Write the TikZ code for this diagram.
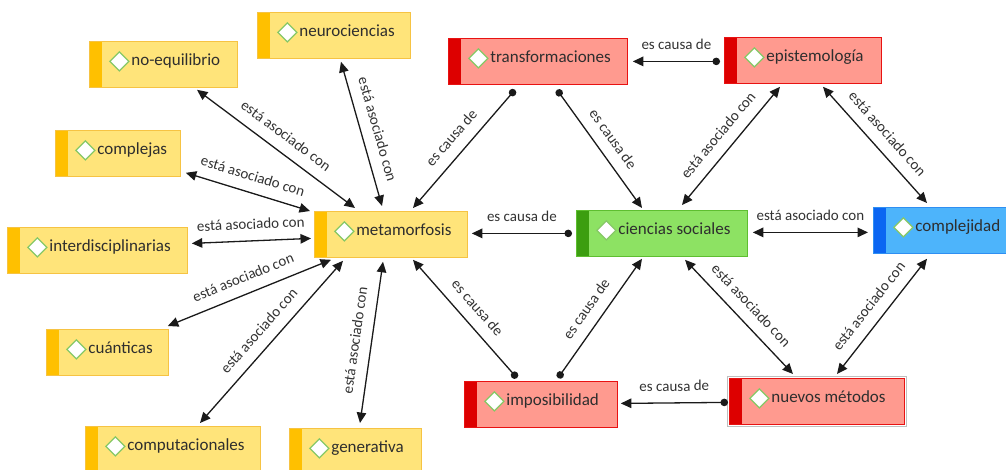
\documentclass[tikz,border=0pt]{standalone}
\usepackage{fontspec}
\setmainfont{Carlito}
\usetikzlibrary{arrows.meta}
\definecolor{yfill}{HTML}{FFE47A}
\definecolor{yacc}{HTML}{FFC000}
\definecolor{ybord}{HTML}{F6C343}
\definecolor{rfill}{HTML}{FF9A8F}
\definecolor{racc}{HTML}{DD0000}
\definecolor{rbord}{HTML}{E81212}
\definecolor{gfill}{HTML}{8DE263}
\definecolor{gacc}{HTML}{3C9E10}
\definecolor{gbord}{HTML}{5EBE30}
\definecolor{bfill}{HTML}{4DB4FB}
\definecolor{bacc}{HTML}{0B66F2}
\definecolor{bbord}{HTML}{2F8FF2}
\definecolor{dgreen}{HTML}{86C866}
\definecolor{ntext}{HTML}{2E2E2E}
\definecolor{ltext}{HTML}{333333}
\definecolor{edgec}{HTML}{1A1A1A}
\tikzset{
  cbox/.style={anchor=north west, inner xsep=0pt, inner ysep=0pt, minimum height=46pt,
    text width=#1pt, align=flush left, line width=0.8pt, text=ntext,
    font=\fontsize{17}{20}\selectfont, text height=9pt, text depth=6pt,
    execute at begin node={\noindent\hspace*{42pt}}},
  accentbar/.style={path picture={
    \fill[#1] (path picture bounding box.north west) rectangle ([shift={(13,0)}]path picture bounding box.south west);
    \filldraw[fill=white, draw=dgreen, line width=1.3pt] ([shift={(20.5,-3)}]path picture bounding box.west) -- ++(9.5,-9.5) -- ++(9.5,9.5) -- ++(-9.5,9.5) -- cycle;}},
  ybox/.style={cbox=#1, fill=yfill, draw=ybord, accentbar=yacc},
  rbox/.style={cbox=#1, fill=rfill, draw=rbord, accentbar=racc},
  gbox/.style={cbox=#1, fill=gfill, draw=gbord, accentbar=gacc},
  bbox/.style={cbox=#1, fill=bfill, draw=bbord, accentbar=bacc},
  tipT/.tip={Triangle[length=10.5pt,width=9.5pt]},
  assoc/.style={draw=edgec, line width=1.3pt, tipT-tipT},
  cause/.style={draw=edgec, line width=1.3pt, {Circle[length=7.5pt]}-tipT},
  lbl/.style={font=\fontsize{15}{17}\selectfont, text=ltext, sloped, midway, above=9pt, inner sep=2pt}
}
\begin{document}
\begin{tikzpicture}[x=1pt,y=-1pt]
\useasboundingbox (0,0) rectangle (1006,470);
\fill[white] (0,0) rectangle (1006,470);
% nodes
\node[ybox=153] (neuro) at (257,12) {neurociencias};
\node[ybox=148] (noeq) at (89,41) {no-equilibrio};
\node[ybox=125] (compj) at (55,130) {complejas};
\node[ybox=180] (interd) at (7,227) {interdisciplinarias};
\node[ybox=122] (cuant) at (46,329) {cuánticas};
\node[ybox=175] (comput) at (85,426) {computacionales};
\node[ybox=132] (gener) at (289,428) {generativa};
\node[ybox=153] (meta) at (314,211) {metamorfosis};
\node[gbox=171] (cs) at (576,210) {ciencias sociales};
\node[bbox=140] (compl) at (873,207) {complejidad};
\node[rbox=179] (transf) at (448,38) {transformaciones};
\node[rbox=157] (epist) at (724,37) {epistemología};
\node[rbox=153] (impos) at (464,381) {imposibilidad};
\node[rbox=175] (nm) at (729,378) {nuevos métodos};
\draw[black!25, line width=1pt] ([shift={(-2,-2)}]nm.north west) rectangle ([shift={(2,2)}]nm.south east);
% associations to metamorfosis
\draw[assoc] ([shift={(108,2)}]noeq.south west) -- node[lbl]{está asociado con} ([shift={(41,-3)}]meta.north west);
\draw[assoc] ([shift={(84,3)}]neuro.south west) -- node[lbl]{está asociado con} ([shift={(68,-5)}]meta.north west);
\draw[assoc] ([shift={(5,-4)}]compj.south east) -- node[lbl]{está asociado con} ([shift={(-4,0)}]meta.north west);
\draw[assoc] ([shift={(4,-7)}]interd.east) -- node[lbl]{está asociado con} ([shift={(-3,4)}]meta.west);
\draw[assoc] ([shift={(-1,-3)}]cuant.north east) -- node[lbl]{está asociado con} ([shift={(17,2)}]meta.south west);
\draw[assoc] ([shift={(115,-3)}]comput.north west) -- node[lbl]{está asociado con} ([shift={(29,3)}]meta.south west);
\draw[assoc] ([shift={(71,-5)}]gener.north west) -- node[lbl]{está asociado con} ([shift={(69,4)}]meta.south west);
% causes
\draw[cause] ([shift={(-4,0)}]cs.west) -- node[lbl]{es causa de} ([shift={(4,-1)}]meta.east);
\draw[cause] ([shift={(67,5)}]transf.south west) -- node[lbl]{es causa de} ([shift={(99,-3)}]meta.north west);
\draw[cause] ([shift={(109,5)}]transf.south west) -- node[lbl]{es causa de} ([shift={(66,-2)}]cs.north west);
\draw[cause] ([shift={(-4,1)}]epist.west) -- node[lbl]{es causa de} ([shift={(5,0)}]transf.east);
\draw[cause] ([shift={(53,-3)}]impos.north west) -- node[lbl]{es causa de} ([shift={(99,2)}]meta.south west);
\draw[cause] ([shift={(94,-3)}]impos.north west) -- node[lbl]{es causa de} ([shift={(66,2)}]cs.south west);
\draw[cause] ([shift={(-1,1)}]nm.west) -- node[lbl]{es causa de} ([shift={(3,-1)}]impos.east);
% associations on the right
\draw[assoc] ([shift={(5,-1)}]cs.east) -- node[lbl]{está asociado con} ([shift={(-5,2)}]compl.west);
\draw[assoc] ([shift={(106,-5)}]cs.north west) -- node[lbl]{está asociado con} ([shift={(56,3)}]epist.south west);
\draw[assoc] ([shift={(99,3)}]epist.south west) -- node[lbl]{está asociado con} ([shift={(54,-4)}]compl.north west);
\draw[assoc] ([shift={(109,3)}]cs.south west) -- node[lbl]{está asociado con} ([shift={(64,-4)}]nm.north west);
\draw[assoc] ([shift={(54,5)}]compl.south west) -- node[lbl]{está asociado con} ([shift={(108,-4)}]nm.north west);
\end{tikzpicture}
\end{document}
